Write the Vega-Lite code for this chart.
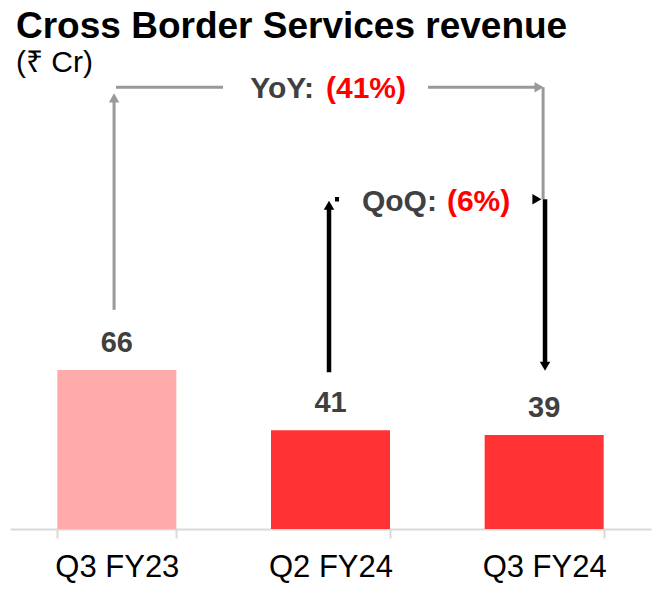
{
  "$schema": "https://vega.github.io/schema/vega-lite/v6.json",
  "width": 641,
  "height": 448,
  "autosize": {"type": "none"},
  "padding": {"left": 10, "top": 81, "right": 3, "bottom": 61},
  "background": "white",
  "config": {
    "view": {"stroke": null},
    "font": "Liberation Sans"
  },
  "title": {
    "text": "Cross Border Services revenue",
    "subtitle": "(₹ Cr)",
    "anchor": "start",
    "frame": "group",
    "font": "Liberation Sans",
    "fontSize": 37,
    "fontWeight": "bold",
    "color": "#000000",
    "subtitleFont": "Liberation Sans",
    "subtitleFontSize": 30,
    "subtitleColor": "#000000",
    "subtitlePadding": 2,
    "offset": -5,
    "dx": 6
  },
  "datasets": {
    "bars": [
      {"quarter": "Q3 FY23", "revenue": 66},
      {"quarter": "Q2 FY24", "revenue": 41},
      {"quarter": "Q3 FY24", "revenue": 39}
    ],
    "segments": [
      {"kind": "YoY", "x1": 0.487, "x2": 0.487, "y1": 91, "y2": 178},
      {"kind": "YoY", "x1": 0.496, "x2": 0.997, "y1": 183.4, "y2": 183.4},
      {"kind": "YoY", "x1": 1.956, "x2": 2.471, "y1": 183.4, "y2": 183.4},
      {"kind": "YoY", "x1": 2.495, "x2": 2.495, "y1": 183.4, "y2": 136.9},
      {"kind": "QoQ", "x1": 1.493, "x2": 1.493, "y1": 65.1, "y2": 133},
      {"kind": "QoQ", "x1": 1.521, "x2": 1.540, "y1": 136.9, "y2": 136.9},
      {"kind": "QoQ", "x1": 2.504, "x2": 2.504, "y1": 136.9, "y2": 69.3}
    ],
    "heads": [
      {"kind": "YoY", "dir": "up", "x": 0.487, "y": 179.0},
      {"kind": "YoY", "dir": "right", "x": 2.476, "y": 183.4},
      {"kind": "QoQ", "dir": "up", "x": 1.493, "y": 134.4},
      {"kind": "QoQ", "dir": "right", "x": 2.466, "y": 136.9},
      {"kind": "QoQ", "dir": "down", "x": 2.504, "y": 67.6}
    ],
    "notes": [
      {"kind": "YoY", "part": "name", "text": "YoY:", "x": 1.423, "y": 178.8},
      {"kind": "YoY", "part": "change", "text": "(41%)", "x": 1.479, "y": 178.8},
      {"kind": "QoQ", "part": "name", "text": "QoQ:", "x": 1.998, "y": 131.95},
      {"kind": "QoQ", "part": "change", "text": "(6%)", "x": 2.045, "y": 131.95}
    ]
  },
  "resolve": {"scale": {"x": "independent"}, "axis": {"x": "independent"}},
  "layer": [
    {
      "data": {"name": "bars"},
      "encoding": {
        "x": {
          "field": "quarter",
          "type": "nominal",
          "sort": null,
          "scale": {"paddingInner": 0.443, "paddingOuter": 0.2215},
          "axis": {
            "title": null,
            "labelAngle": 0,
            "labelFont": "Liberation Sans",
            "labelFontSize": 31,
            "labelColor": "#000000",
            "labelPadding": 14,
            "domainColor": "#d9d9d9",
            "domainWidth": 2,
            "tickColor": "#d9d9d9",
            "tickWidth": 2,
            "tickSize": 9,
            "tickBand": "extent",
            "grid": false
          }
        },
        "y": {
          "field": "revenue",
          "type": "quantitative",
          "scale": {"domain": [0, 186], "nice": false},
          "axis": null
        }
      },
      "layer": [
        {
          "mark": {"type": "bar"},
          "encoding": {
            "color": {
              "condition": {"test": "datum.quarter === 'Q3 FY23'", "value": "#FFABAB"},
              "value": "#FF3333"
            }
          }
        },
        {
          "mark": {
            "type": "text",
            "dy": -18,
            "baseline": "alphabetic",
            "font": "Liberation Sans",
            "fontSize": 29,
            "fontWeight": "bold",
            "color": "#404040"
          },
          "encoding": {"text": {"field": "revenue", "type": "quantitative"}}
        }
      ]
    },
    {
      "data": {"name": "segments"},
      "mark": {"type": "rule", "strokeCap": "butt"},
      "encoding": {
        "x": {"field": "x1", "type": "quantitative", "scale": {"domain": [0, 3], "nice": false, "zero": false}, "axis": null},
        "x2": {"field": "x2"},
        "y": {"field": "y1", "type": "quantitative"},
        "y2": {"field": "y2"},
        "color": {"field": "kind", "type": "nominal", "scale": {"domain": ["YoY", "QoQ"], "range": ["#999999", "#000000"]}, "legend": null},
        "strokeWidth": {"field": "kind", "type": "nominal", "scale": {"domain": ["YoY", "QoQ"], "range": [3, 4.5]}, "legend": null}
      }
    },
    {
      "data": {"name": "heads"},
      "mark": {"type": "point", "filled": true, "size": 110, "opacity": 1},
      "encoding": {
        "x": {"field": "x", "type": "quantitative", "scale": {"domain": [0, 3], "nice": false, "zero": false}, "axis": null},
        "y": {"field": "y", "type": "quantitative"},
        "color": {"field": "kind", "type": "nominal", "scale": {"domain": ["YoY", "QoQ"], "range": ["#999999", "#000000"]}, "legend": null},
        "shape": {"field": "dir", "type": "nominal", "scale": {"domain": ["up", "right", "down"], "range": ["triangle-up", "triangle-right", "triangle-down"]}, "legend": null}
      }
    },
    {
      "data": {"name": "notes"},
      "transform": [{"filter": "datum.part === 'name'"}],
      "mark": {
        "type": "text",
        "align": "right",
        "baseline": "alphabetic",
        "font": "Liberation Sans",
        "fontSize": 30,
        "fontWeight": "bold",
        "color": "#404040"
      },
      "encoding": {
        "x": {"field": "x", "type": "quantitative", "scale": {"domain": [0, 3], "nice": false, "zero": false}, "axis": null},
        "y": {"field": "y", "type": "quantitative"},
        "text": {"field": "text", "type": "nominal"}
      }
    },
    {
      "data": {"name": "notes"},
      "transform": [{"filter": "datum.part === 'change'"}],
      "mark": {
        "type": "text",
        "align": "left",
        "baseline": "alphabetic",
        "font": "Liberation Sans",
        "fontSize": 30,
        "fontWeight": "bold",
        "color": "#FF0000"
      },
      "encoding": {
        "x": {"field": "x", "type": "quantitative", "scale": {"domain": [0, 3], "nice": false, "zero": false}, "axis": null},
        "y": {"field": "y", "type": "quantitative"},
        "text": {"field": "text", "type": "nominal"}
      }
    }
  ]
}
